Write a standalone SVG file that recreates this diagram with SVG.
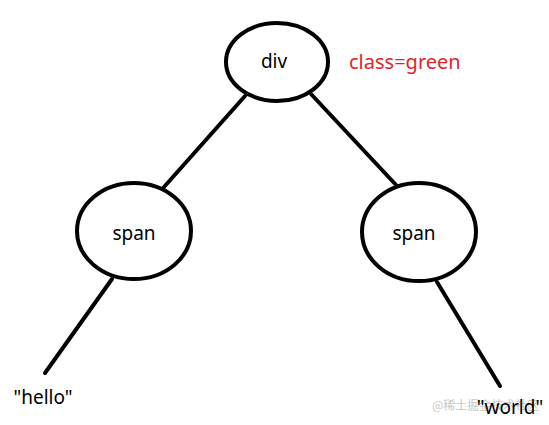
<svg xmlns="http://www.w3.org/2000/svg" width="549" height="425" viewBox="0 0 549 425">
<style>
.node ellipse{fill:#fff;stroke:#000;stroke-width:4}
.lbl{font-family:"Noto Sans","Liberation Sans",sans-serif;font-size:19px;fill:#000}
.edge{stroke:#000;stroke-width:4;stroke-linecap:round;fill:none}
</style>
<rect width="549" height="425" fill="#fff"/>
<g id="connectors">
<line class="edge" x1="245" y1="96" x2="164" y2="187"/>
<line class="edge" x1="311" y1="94" x2="397" y2="186"/>
<line class="edge" x1="112" y1="279" x2="45" y2="373"/>
<line class="edge" x1="437" y1="282" x2="500" y2="386"/>
</g>
<g id="node-div" class="node">
<ellipse cx="277" cy="62" rx="51" ry="39"/>
<text class="lbl" x="274" y="68" text-anchor="middle">div</text>
</g>
<g id="attr-class">
<text x="349" y="69" style="font-family:'Noto Sans','Liberation Sans',sans-serif;font-size:20px;fill:#e0242c">class=green</text>
</g>
<g id="node-span-left" class="node">
<ellipse cx="134" cy="231" rx="57" ry="48"/>
<text class="lbl" x="134" y="240" text-anchor="middle">span</text>
</g>
<g id="node-span-right" class="node">
<ellipse cx="419" cy="232" rx="57" ry="49"/>
<text class="lbl" x="414" y="240" text-anchor="middle">span</text>
</g>
<g id="text-hello">
<text class="lbl" x="43" y="404" text-anchor="middle">"hello"</text>
</g>
<text x="432" y="410" style="font-family:'Noto Sans CJK SC',sans-serif;font-size:12px;fill:#c8c8c8">@稀土掘金技术社区</text>
<g id="text-world">
<text class="lbl" x="510" y="414" text-anchor="middle">"world"</text>
</g>
</svg>
